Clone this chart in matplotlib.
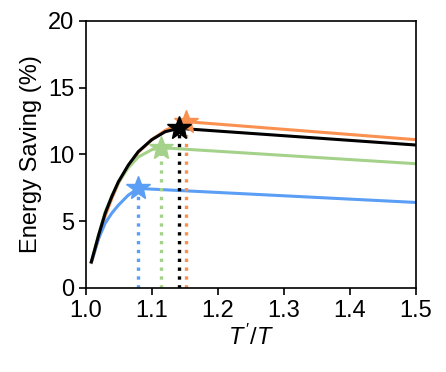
import matplotlib
matplotlib.use("Agg")
import matplotlib.pyplot as plt

plt.rcParams['font.family'] = ['Liberation Sans', 'DejaVu Sans']
plt.rcParams['mathtext.fontset'] = 'custom'
plt.rcParams['mathtext.it'] = 'Liberation Sans:italic'
plt.rcParams['mathtext.rm'] = 'Liberation Sans'

# curves (T'/T, energy saving %)
x_orange = [1.008, 1.019, 1.029, 1.039, 1.049, 1.064, 1.079, 1.0995, 1.12, 1.14, 1.152, 1.5]
y_orange = [1.9, 3.7, 5.4, 6.7, 7.85, 9.1, 10.15, 11.1, 11.8, 12.25, 12.45, 11.1]
x_black = [1.008, 1.019, 1.029, 1.039, 1.049, 1.064, 1.079, 1.0995, 1.12, 1.141, 1.5]
y_black = [1.95, 3.95, 5.6, 6.85, 7.95, 9.2, 10.2, 11.1, 11.7, 11.95, 10.7]
x_green = [1.008, 1.019, 1.029, 1.039, 1.049, 1.064, 1.079, 1.0995, 1.114, 1.5]
y_green = [1.95, 4.0, 5.7, 6.9, 7.9, 9.0, 9.8, 10.35, 10.5, 9.3]
x_blue = [1.008, 1.019, 1.029, 1.039, 1.049, 1.064, 1.079, 1.5]
y_blue = [1.95, 3.7, 4.85, 5.6, 6.2, 6.95, 7.45, 6.4]

peak_x = [1.152, 1.114, 1.079, 1.141]
peak_y = [12.45, 10.5, 7.45, 11.95]
peak_col = ['#fa9150', '#a5d28a', '#5a9ef5', 'black']

fig = plt.figure(figsize=(4.46, 3.72), dpi=100)
ax = fig.add_axes([0.193, 0.226, 0.74, 0.718])

ax.plot(x_orange, y_orange, color='#fa9150', lw=2.2)
ax.plot(x_green, y_green, color='#a5d28a', lw=2.2)
ax.plot(x_blue, y_blue, color='#5a9ef5', lw=2.2)
ax.plot(x_black, y_black, color='black', lw=2.2)

for px, py, c in zip(peak_x, peak_y, peak_col):
    ax.plot([px, px], [0, py], color=c, ls=':', lw=2.4)
for px, py, c in zip(peak_x, peak_y, peak_col):
    ax.plot(px, py, marker='*', ms=18, color=c)

ax.set_xlim(1.0, 1.5)
ax.set_ylim(0, 20)
ax.set_xticks([1.0, 1.1, 1.2, 1.3, 1.4, 1.5])
ax.set_yticks([0, 5, 10, 15, 20])
ax.tick_params(labelsize=17, width=1.2, length=5)
for s in ax.spines.values():
    s.set_linewidth(1.2)
ax.set_xlabel(r"$T\,'/T$", fontsize=17, labelpad=2)
ax.set_ylabel("Energy Saving (%)", fontsize=17, labelpad=4)

fig.savefig("out.png", dpi=100)
